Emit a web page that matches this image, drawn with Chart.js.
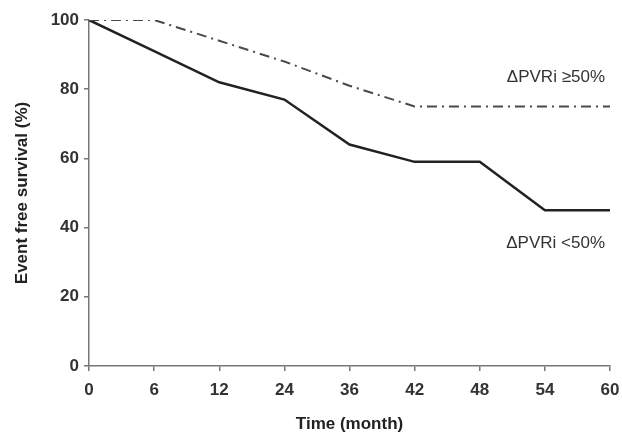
<!DOCTYPE html>
<html>
<head>
<meta charset="utf-8">
<script src="https://cdn.jsdelivr.net/npm/chart.js@4/dist/chart.umd.min.js"></script>
<style>
  html, body { margin: 0; padding: 0; background: #fff; }
  #wrap { width: 622px; height: 435px; }
</style>
</head>
<body>
<div id="wrap"><canvas id="c" width="622" height="435"></canvas></div>
<script>
// months on the x axis (equally spaced categories)
var months = ["0", "6", "12", "24", "36", "42", "48", "54", "60"];
// event free survival (%)
var highGroup = [100, 100, 94, 88, 81, 75, 75, 75, 75];   // dPVRi >= 50%
var lowGroup = [100, 91, 82, 77, 64, 59, 59, 45, 45];     // dPVRi < 50%
var yTicks = [0, 20, 40, 60, 80, 100];

var labelHigh = "\u0394PVRi \u226550%";
var labelLow = "\u0394PVRi <50%";

// draws the two group labels next to the curves
var groupLabels = {
  id: "groupLabels",
  afterDatasetsDraw: function (chart) {
    var ctx = chart.ctx;
    var y = chart.scales.y;
    var right = chart.chartArea.right - 5;
    ctx.save();
    ctx.font = "17px 'Liberation Sans', Arial, sans-serif";
    ctx.fillStyle = "#333";
    ctx.textAlign = "right";
    ctx.textBaseline = "middle";
    ctx.fillText(labelHigh, right, y.getPixelForValue(83.5));
    ctx.fillText(labelLow, right, y.getPixelForValue(35.5));
    ctx.restore();
  }
};

var tickFont = { family: "'Liberation Sans', Arial, sans-serif", size: 17, weight: "bold" };
var titleFont = { family: "'Liberation Sans', Arial, sans-serif", size: 17, weight: "bold" };

new Chart(document.getElementById("c"), {
  type: "line",
  data: {
    labels: months,
    datasets: [
      {
        label: labelHigh,
        data: highGroup,
        borderColor: "#4a4a4a",
        borderWidth: 2,
        borderDash: [10, 5, 2, 5],
        pointRadius: 0,
        tension: 0,
        fill: false
      },
      {
        label: labelLow,
        data: lowGroup,
        borderColor: "#222",
        borderWidth: 2.5,
        pointRadius: 0,
        tension: 0,
        fill: false
      }
    ]
  },
  options: {
    responsive: false,
    animation: false,
    layout: { padding: { top: 20, right: 12, left: 0, bottom: 0 } },
    plugins: {
      legend: { display: false },
      tooltip: { enabled: false }
    },
    scales: {
      x: {
        offset: false,
        grid: { display: true, drawOnChartArea: false, drawTicks: true, tickLength: 5, color: "#777", lineWidth: 1.5 },
        border: { display: true, color: "#777", width: 1.5 },
        ticks: { color: "#333", font: tickFont, padding: 9, maxRotation: 0, autoSkip: false },
        title: { display: true, text: "Time (month)", color: "#222", font: titleFont, padding: { top: 4, bottom: 0 } },
        afterFit: function (s) {
          s.height = 69;
          s.paddingLeft = 0;
          s.paddingRight = 0;
        }
      },
      y: {
        min: 0,
        max: 100,
        afterBuildTicks: function (s) {
          s.ticks = yTicks.map(function (v) { return { value: v }; });
        },
        grid: { display: true, drawOnChartArea: false, drawTicks: true, tickLength: 5, color: "#777", lineWidth: 1.5 },
        border: { display: true, color: "#777", width: 1.5 },
        ticks: { color: "#333", font: tickFont, padding: 5 },
        title: { display: true, text: "Event free survival (%)", color: "#222", font: titleFont, padding: { top: 12, bottom: 0 } },
        afterFit: function (s) {
          s.width = 89;
          s.paddingTop = 0;
          s.paddingBottom = 0;
        }
      }
    }
  },
  plugins: [groupLabels]
});
</script>
</body>
</html>
